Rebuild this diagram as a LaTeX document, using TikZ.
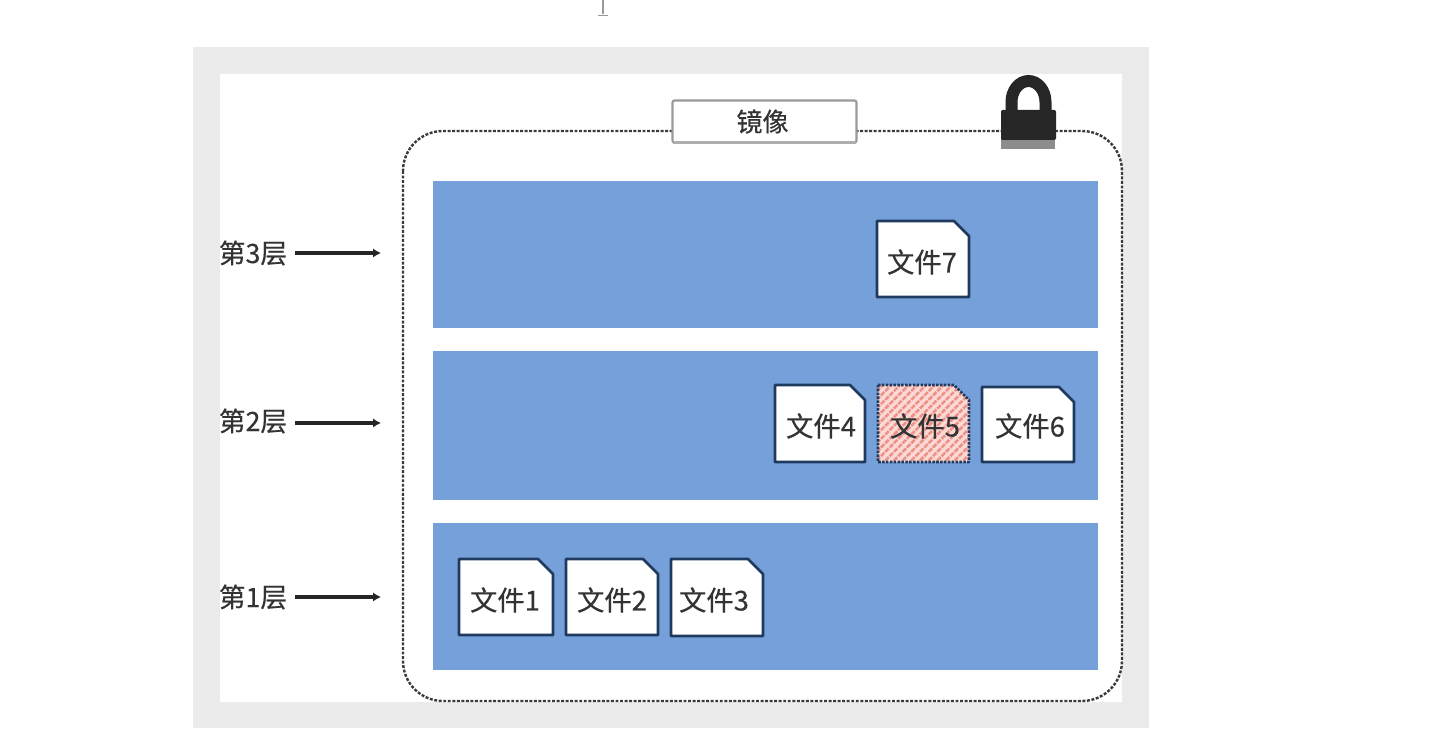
\documentclass[tikz,border=0pt]{standalone}
\usepackage{fontspec}
\setmainfont[FakeBold=0.35]{Noto Sans CJK SC}
\usetikzlibrary{arrows.meta,patterns.meta}
\definecolor{framegray}{HTML}{EBEBEB}
\definecolor{layerblue}{HTML}{76A0D9}
\definecolor{filenavy}{HTML}{1F3A5F}
\definecolor{inkgray}{HTML}{333333}
\definecolor{lockdark}{HTML}{262626}
\definecolor{lockbase}{HTML}{8C8C8C}
\definecolor{tagline}{HTML}{999999}
\definecolor{hatchpink}{HTML}{FBDAD5}
\definecolor{hatchred}{HTML}{EE8F86}
\definecolor{dashgray}{HTML}{3A3A3A}
\tikzset{
  x=0.75pt,y=-0.75pt,
  labeltext/.style={font=\fontsize{20pt}{22pt}\selectfont,text=inkgray,inner sep=0pt},
  layerband/.style={fill=layerblue,draw=none},
  fileedge/.style={draw=filenavy,line width=2pt,line join=round},
  filetext/.style={font=\fontsize{20.5pt}{22pt}\selectfont,text=inkgray,inner sep=0pt},
  levelarrow/.style={draw=black!85,line width=2.6pt,-{Latex[length=6pt,width=7pt]}},
}
% name, left, top, right, bottom, text cx, text cy, label, extra fill style
\newcommand{\filedoc}[9]{%
  \path[fileedge,#9] (#2,#3) -- (#4-15,#3) -- (#4,#3+15) -- (#4,#5) -- (#2,#5) -- cycle;
  \node[filetext] (#1) at (#6,#7) {#8};
}
\begin{document}
\begin{tikzpicture}
\useasboundingbox (0,0) rectangle (1454,756);
\fill[white] (0,0) rectangle (1454,756);
% stray cursor mark at the top
\draw[draw=black!40,line width=1.3pt] (603,0) -- (603,14);
\draw[draw=black!40,line width=1.3pt] (598,15.5) -- (608,15.5);
% grey frame and white panel
\fill[framegray] (193,47) rectangle (1149,728);
\fill[white] (220,74) rectangle (1122,702);
% layers
\path[layerband] (433,181) rectangle (1098,328);
\path[layerband] (433,351) rectangle (1098,500);
\path[layerband] (433,523) rectangle (1098,670);
% dashed image frame
\draw[draw=dashgray,line width=1.8pt,dash pattern=on 2.2pt off 1.2pt,rounded corners=30pt] (403,131) rectangle (1122,701);
% image tag
\node[draw=tagline,line width=1.6pt,fill=white,rounded corners=1.5pt,minimum width=138pt,minimum height=31.5pt,inner sep=0pt,font=\fontsize{19.5pt}{21pt}\selectfont,text=inkgray] (imagetag) at (764.5,121.5) {\hspace{-3pt}镜像};
\draw[draw=tagline!80,line width=2.4pt] ([xshift=1pt,yshift=1pt]imagetag.south west) -- ([xshift=-1pt,yshift=1pt]imagetag.south east);
% lock
\draw[draw=lockdark,line width=9pt] (1011.5,112) -- (1011.5,102) arc[start angle=180,end angle=0,x radius=17,y radius=-21] -- (1045.5,112);
\fill[lockbase] (1001,138) rectangle (1055,149);
\fill[lockdark,rounded corners=1pt] (1001,110) rectangle (1056,140);
% files
\filedoc{fileseven}{877}{221}{969}{297}{922}{262}{文件7}{fill=white}
\filedoc{filefour}{775}{385}{865}{462}{821}{426}{文件4}{fill=white}
\path[fill=hatchpink] (878,385) -- (954,385) -- (969,400) -- (969,462) -- (878,462) -- cycle;
\filedoc{filefive}{878}{385}{969}{462}{925}{426}{文件5}{pattern={Lines[angle=45,distance=4.6pt,line width=1.9pt]},pattern color=hatchred,densely dotted}
\filedoc{filesix}{982}{387}{1074}{462}{1030}{426}{文件6}{fill=white}
\filedoc{fileone}{459}{559}{553}{635}{505}{600}{文件1}{fill=white}
\filedoc{filetwo}{566}{559}{658}{635}{612}{600}{文件2}{fill=white}
\filedoc{filethree}{671}{559}{763}{636}{714}{600}{文件3}{fill=white}
% level labels and arrows
\node[labeltext] (levelthree) at (253,253) {第3层};
\node[labeltext] (leveltwo) at (253,421) {第2层};
\node[labeltext] (levelone) at (253,597) {第1层};
\coordinate (targetthree) at (381,253);
\coordinate (targettwo) at (381,423);
\coordinate (targetone) at (381,597);
\draw[levelarrow] (295,253) -- (targetthree);
\draw[levelarrow] (295,423) -- (targettwo);
\draw[levelarrow] (295,597) -- (targetone);
\end{tikzpicture}
\end{document}
